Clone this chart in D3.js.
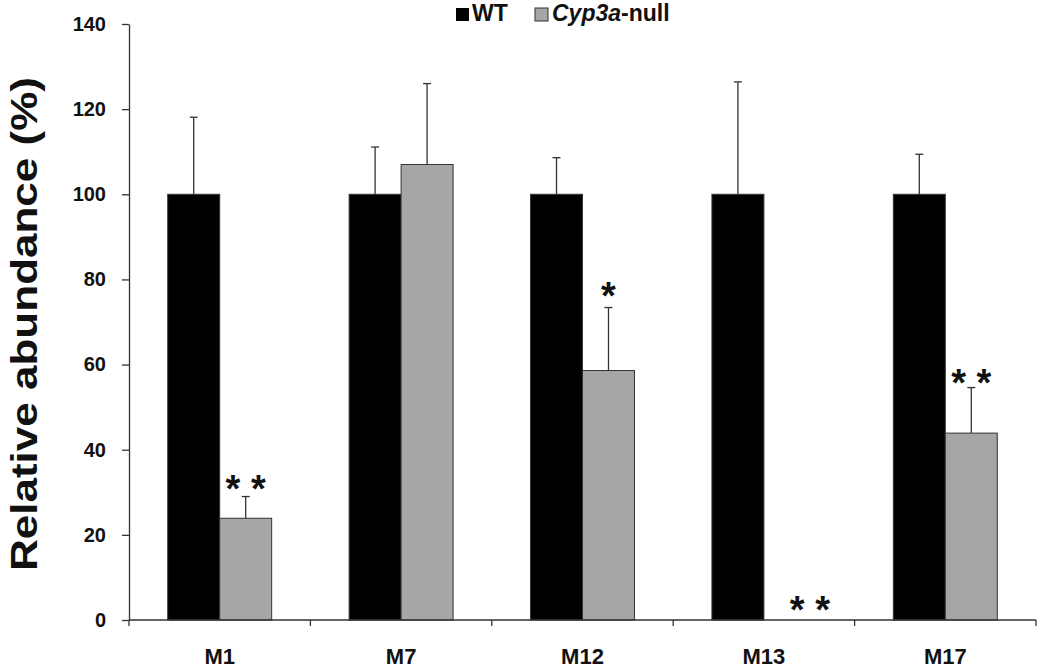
<!DOCTYPE html>
<html>
<head>
<meta charset="utf-8">
<script src="https://cdn.jsdelivr.net/npm/d3@7.9.0/dist/d3.min.js"></script>
<style>
  body { margin: 0; background: #fff; }
  text { font-family: Arial, "Liberation Sans", sans-serif; font-weight: bold; fill: #111; }
</style>
</head>
<body>
<div id="chart"></div>
<script>
// metabolites on the x axis
const categories = ['M1', 'M7', 'M12', 'M13', 'M17'];
const groups = ['WT', 'Cyp3a-null'];

// mean relative abundance (%) and top of the error bar
const wtValues = [100, 100, 100, 100, 100];
const wtErrTop = [118.1, 111.1, 108.6, 126.4, 109.4];
const nullValues = [23.9, 107.0, 58.6, 0, 43.9];
const nullErrTop = [29.0, 126.0, 73.4, null, 54.6];

// significance marks over the Cyp3a-null bars (value = centre height of the stars)
const sigLabels = ['**', '', '*', '**', '**'];
const sigValues = [32.9, null, 78.2, 4.5, 57.8];

const yTicks = [0, 20, 40, 60, 80, 100, 120, 140];

const width = 1050;
const height = 672;
const margin = { top: 24, right: 14, bottom: 52, left: 129 };

const colors = { 'WT': '#000000', 'Cyp3a-null': '#a6a6a6' };

const svg = d3
  .select('#chart')
  .append('svg')
  .attr('width', width)
  .attr('height', height);

const x0 = d3
  .scaleBand()
  .domain(categories)
  .range([margin.left, width - margin.right])
  .paddingInner(0.427)
  .paddingOuter(0.2135);

const x1 = d3.scaleBand().domain(groups).range([0, x0.bandwidth()]);

const y = d3
  .scaleLinear()
  .domain([0, 140])
  .range([height - margin.bottom, margin.top]);

const rows = categories.map((c, i) => ({
  cat: c,
  bars: [
    { group: 'WT', value: wtValues[i], err: wtErrTop[i] },
    { group: 'Cyp3a-null', value: nullValues[i], err: nullErrTop[i] },
  ],
  sig: sigLabels[i],
  sigY: sigValues[i],
}));

// bars
const g = svg
  .selectAll('g.cat')
  .data(rows)
  .join('g')
  .attr('class', 'cat')
  .attr('transform', (d) => `translate(${x0(d.cat)},0)`);

g.selectAll('rect')
  .data((d) => d.bars.filter((b) => b.value > 0))
  .join('rect')
  .attr('x', (b) => x1(b.group))
  .attr('y', (b) => y(b.value))
  .attr('width', x1.bandwidth())
  .attr('height', (b) => y(0) - y(b.value))
  .attr('fill', (b) => colors[b.group])
  .attr('stroke', '#333')
  .attr('stroke-width', 1);

// error bars (upper only)
const errs = g
  .selectAll('g.err')
  .data((d) => d.bars.filter((b) => b.err != null))
  .join('g')
  .attr('class', 'err')
  .attr('stroke', '#333')
  .attr('stroke-width', 1.3);

errs
  .append('line')
  .attr('x1', (b) => x1(b.group) + x1.bandwidth() / 2)
  .attr('x2', (b) => x1(b.group) + x1.bandwidth() / 2)
  .attr('y1', (b) => y(b.value))
  .attr('y2', (b) => y(b.err));

errs
  .append('line')
  .attr('x1', (b) => x1(b.group) + x1.bandwidth() / 2 - 4)
  .attr('x2', (b) => x1(b.group) + x1.bandwidth() / 2 + 4)
  .attr('y1', (b) => y(b.err))
  .attr('y2', (b) => y(b.err));

// stars
const sigNudge = { M13: 20 };
g.filter((d) => d.sig)
  .append('text')
  .attr('x', (d) => x1('Cyp3a-null') + x1.bandwidth() / 2 + (sigNudge[d.cat] || 0))
  .attr('y', (d) => y(d.sigY) + 22)
  .attr('text-anchor', 'middle')
  .style('font-size', '38px')
  .text((d) => d.sig.split('').join(' '));

// y axis
const yAxis = svg
  .append('g')
  .attr('transform', `translate(${margin.left},0)`)
  .call(
    d3.axisLeft(y).tickValues(yTicks).tickSize(7).tickSizeOuter(0).tickPadding(16)
  );
yAxis.selectAll('path, line').attr('stroke', '#333').attr('stroke-width', 1.3);
yAxis.selectAll('text').style('font-size', '20px').attr('fill', '#111');

// x axis: baseline with ticks between categories
const step = x0.step();
const boundaries = d3.range(categories.length + 1).map((i) => margin.left + i * step);
svg
  .append('line')
  .attr('x1', margin.left)
  .attr('x2', width - margin.right)
  .attr('y1', y(0))
  .attr('y2', y(0))
  .attr('stroke', '#333')
  .attr('stroke-width', 1.3);
svg
  .selectAll('line.xtick')
  .data(boundaries)
  .join('line')
  .attr('class', 'xtick')
  .attr('x1', (d) => d)
  .attr('x2', (d) => d)
  .attr('y1', y(0))
  .attr('y2', y(0) + 6)
  .attr('stroke', '#333')
  .attr('stroke-width', 1.3);

svg
  .selectAll('text.xlabel')
  .data(categories)
  .join('text')
  .attr('class', 'xlabel')
  .attr('x', (d) => x0(d) + x0.bandwidth() / 2)
  .attr('y', 664)
  .attr('text-anchor', 'middle')
  .style('font-size', '22px')
  .text((d) => d);

// y axis title
svg
  .append('text')
  .attr('transform', `translate(37, ${(y(0) + y(140)) / 2 + 2}) rotate(-90)`)
  .attr('text-anchor', 'middle')
  .attr('textLength', 494)
  .attr('lengthAdjust', 'spacingAndGlyphs')
  .style('font-size', '37px')
  .text('Relative abundance (%)');

// legend
const legend = svg.append('g').attr('transform', 'translate(456,8)');
legend.append('rect').attr('width', 13).attr('height', 13).attr('fill', colors['WT']);
legend
  .append('text')
  .attr('x', 16)
  .attr('y', 13)
  .style('font-size', '23px')
  .text('WT');
legend
  .append('rect')
  .attr('x', 79)
  .attr('width', 13)
  .attr('height', 13)
  .attr('fill', colors['Cyp3a-null'])
  .attr('stroke', '#333')
  .attr('stroke-width', 1);
const lt = legend.append('text').attr('x', 96).attr('y', 13).style('font-size', '23px');
lt.append('tspan').style('font-style', 'italic').text('Cyp3a');
lt.append('tspan').text('-null');
</script>
</body>
</html>
